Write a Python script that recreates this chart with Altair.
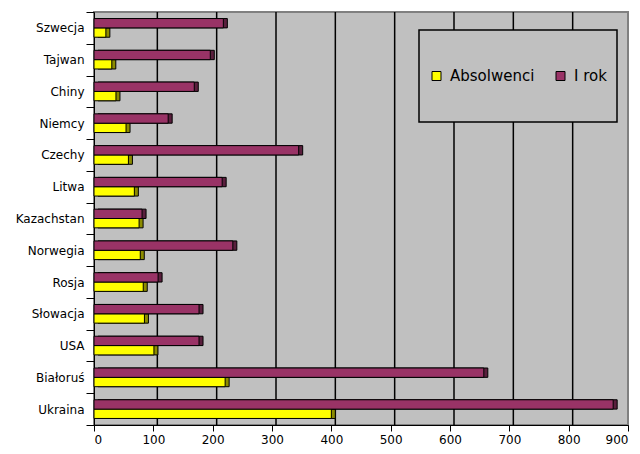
import altair as alt
import pandas as pd

countries = ["Szwecja", "Tajwan", "Chiny", "Niemcy", "Czechy", "Litwa", "Kazachstan",
             "Norwegia", "Rosja", "Słowacja", "USA", "Białoruś", "Ukraina"]
absolwenci = [20, 30, 37, 54, 58, 68, 76, 78, 83, 85, 101, 221, 400]
i_rok = [218, 196, 169, 125, 345, 216, 81, 234, 108, 177, 177, 657, 875]
series = ["Absolwenci", "I rok"]
series_colors = ["#FFFF00", "#993366"]
x_ticks = [0, 100, 200, 300, 400, 500, 600, 700, 800, 900]

rows = []
for c, a, r in zip(countries, absolwenci, i_rok):
    rows.append({"kraj": c, "seria": "Absolwenci", "wartosc": a})
    rows.append({"kraj": c, "seria": "I rok", "wartosc": r})
df = pd.DataFrame(rows)
grid_df = pd.DataFrame({"v": x_ticks[1:-1]})

FONT = "DejaVu Sans"

x_scale = alt.Scale(domain=[0, 900], nice=False, zero=True)
y_scale = alt.Scale(domain=countries, paddingInner=0, paddingOuter=0)
yoff_scale = alt.Scale(domain=["I rok", "Absolwenci"], paddingInner=0, paddingOuter=0.7)

x_enc = alt.X("wartosc:Q", scale=x_scale,
              axis=alt.Axis(values=x_ticks, title=None, grid=False, tickSize=6,
                            tickColor="black", domainColor="black", labelColor="black",
                            labelFontSize=12, labelFont=FONT, labelPadding=3))
y_enc = alt.Y("kraj:N", scale=y_scale, sort=countries,
              axis=alt.Axis(title=None, tickBand="extent", tickSize=8, tickColor="black",
                            domainColor="black", labelColor="black", labelFontSize=12,
                            labelFont=FONT, labelPadding=2, grid=False))
yoff_enc = alt.YOffset("seria:N", scale=yoff_scale, sort=["I rok", "Absolwenci"])

grid = alt.Chart(grid_df).mark_rule(color="black", strokeWidth=1.5, xOffset=4).encode(
    x=alt.X("v:Q", scale=x_scale)
)

back = alt.Chart(df).mark_bar(
    xOffset=4, x2Offset=4, yOffset=-3, y2Offset=-3, stroke="black", strokeWidth=1
).encode(
    x=x_enc, y=y_enc, yOffset=yoff_enc,
    fill=alt.condition(alt.datum.seria == "I rok", alt.value("#5a1f3d"), alt.value("#8c8c00")),
)

front = alt.Chart(df).mark_bar(stroke="black", strokeWidth=1).encode(
    x=x_enc, y=y_enc, yOffset=yoff_enc,
    color=alt.Color("seria:N", scale=alt.Scale(domain=series, range=series_colors),
                    legend=alt.Legend(title=None, orient="none", legendX=325, legendY=18,
                                      direction="horizontal", fillColor="#C0C0C0",
                                      strokeColor="black", padding=10,
                                      clipHeight=72, symbolType="square",
                                      symbolSize=81, symbolStrokeColor="black",
                                      symbolStrokeWidth=1, symbolOpacity=1,
                                      labelFontSize=15, labelFont=FONT, labelColor="black",
                                      labelOffset=6, columnPadding=18)),
)

chart = alt.layer(grid, back, front).properties(
    width=534, height=413,
    autosize=alt.AutoSizeParams(type="none"),
    padding={"left": 94, "top": 12, "right": 12, "bottom": 29},
    background="white",
).configure_view(fill="#C0C0C0", stroke="#808080", strokeWidth=2).configure_legend(
    strokeWidth=1.5
)

chart.save("out.html", embed_options={"renderer": "svg", "actions": False})
